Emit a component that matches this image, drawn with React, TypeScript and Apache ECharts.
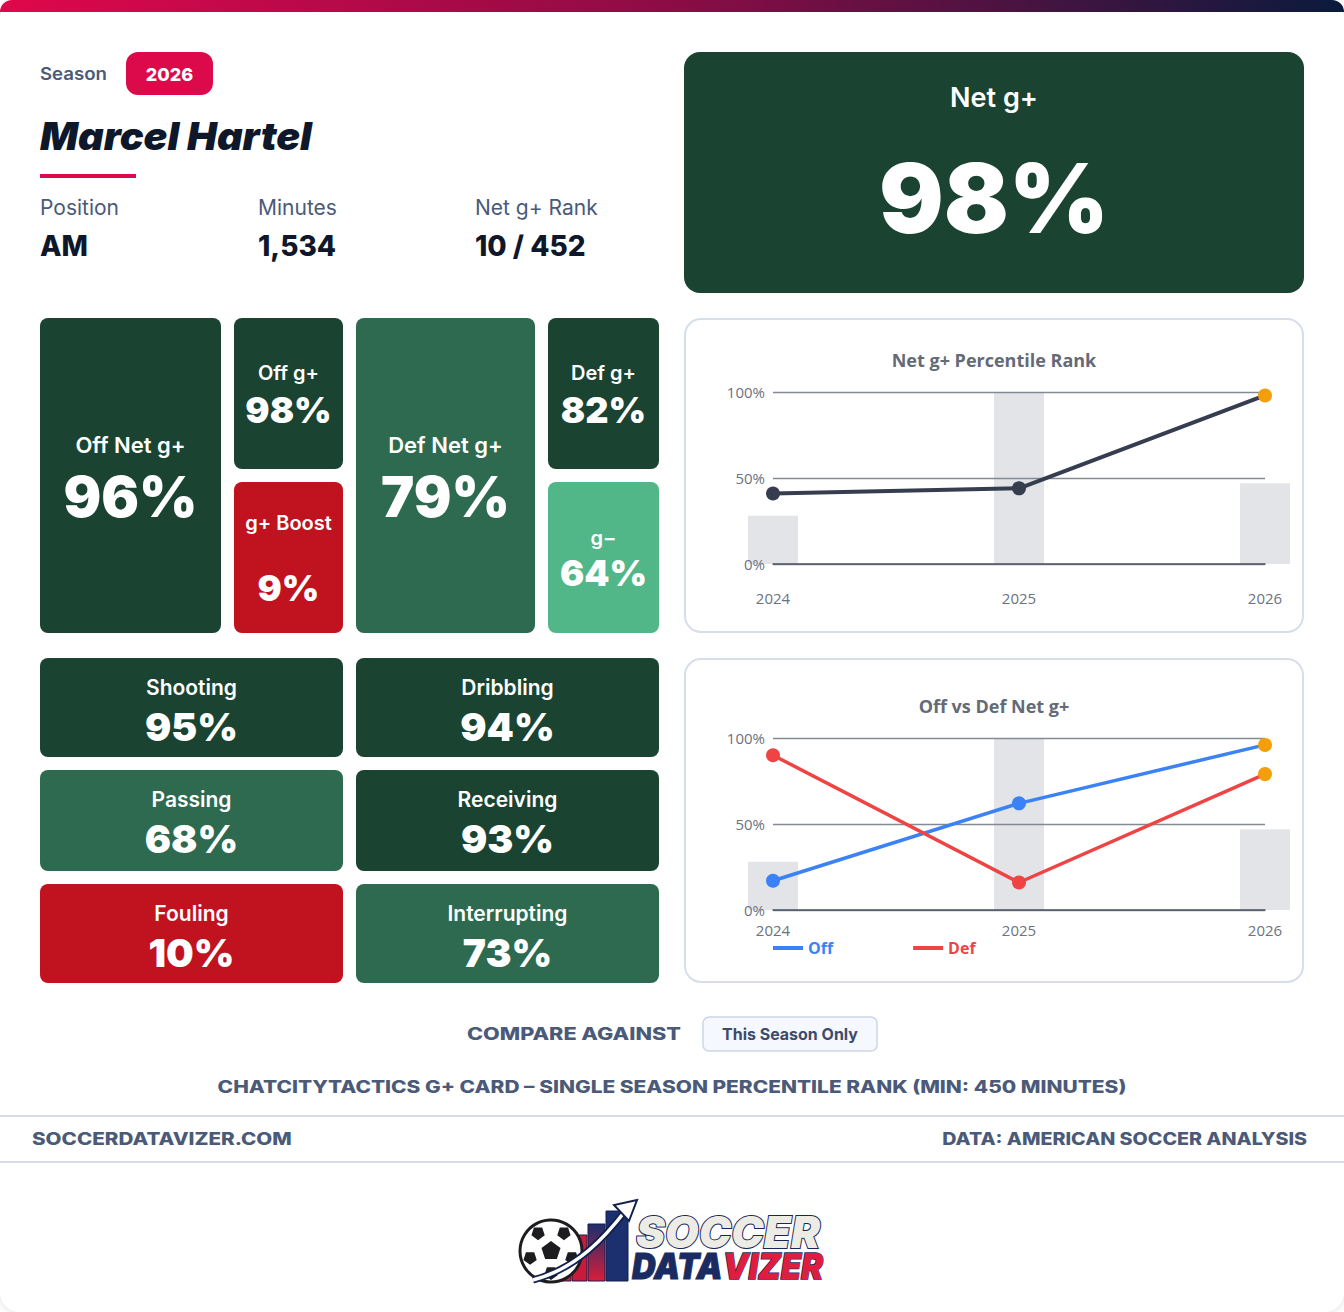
import React, { useEffect, useRef } from "react";
import * as echarts from "echarts";

// ---------- data ----------
const seasons = ["2024", "2025", "2026"];
const netGPlusRank = [41, 44, 98];
const offNetRank = [17, 62, 96];
const defNetRank = [90, 16, 79];
const minutesShare = [28, 100, 47];
const yAxisMin = 0;
const yAxisMax = 100;
const yAxisStep = 50;

const playerName = "Marcel Hartel";
const seasonLabel = "2026";
const infoLabels = ["Position", "Minutes", "Net g+ Rank"];
const infoValues = ["AM", "1,534", "10 / 452"];
const headlineLabel = "Net g+";
const headlineValue = 98;
const topTileLabels = ["Off Net g+", "Off g+", "g+ Boost", "Def Net g+", "Def g+", "g\u2212"];
const topTileValues = [96, 98, 9, 79, 82, 64];
const skillLabels = ["Shooting", "Dribbling", "Passing", "Receiving", "Fouling", "Interrupting"];
const skillValues = [95, 94, 68, 93, 10, 73];
const chartTitles = ["Net g+ Percentile Rank", "Off vs Def Net g+"];
const legendNames = ["Off", "Def"];
const compareLabel = "COMPARE AGAINST";
const compareOption = "This Season Only";
const captionText = "CHATCITYTACTICS G+ CARD \u2013 SINGLE SEASON PERCENTILE RANK (MIN: 450 MINUTES)";
const footerLeft = "SOCCERDATAVIZER.COM";
const footerRight = "DATA: AMERICAN SOCCER ANALYSIS";

// ---------- style ----------
const DARK = "#1b4332";
const MID = "#2d6a4f";
const LIGHT = "#52b788";
const RED = "#c1121f";
const CRIMSON = "#dc0a4b";
const SLATE = "#4a5a78";
const INK = "#0f172a";
const ORANGE = "#f59e0b";
const NAVY = "#1a2b61";
const FONT = 'Inter, "Noto Sans", sans-serif';
const CFONT = '"Open Sans", "Noto Sans", sans-serif';

const tileColor = (v: number) => (v >= 80 ? DARK : v >= 65 ? MID : v >= 50 ? LIGHT : RED);

export default function App() {
  const ref = useRef<HTMLDivElement>(null);

  useEffect(() => {
    document.body.style.margin = "0";
    const chart = echarts.init(ref.current!, null, { renderer: "svg" });

    const cv = document.createElement("canvas");
    const ctx = cv.getContext("2d")!;
    const measure = (t: string, size: number, weight: any, family = FONT, style = "normal") => {
      ctx.font = `${style} ${weight} ${size}px ${family}`;
      return ctx.measureText(t).width;
    };
    const fit = (t: string, size: number, weight: any, target: number, family = FONT, style = "normal") => {
      const w = measure(t, size, weight, family, style);
      return w > 0 ? target / w : 1;
    };

    const txt = (x: number, y: number, text: string, o: any = {}) => ({
      type: "text",
      x,
      y,
      scaleX: o.scaleX ?? 1,
      z: o.z ?? 5,
      silent: true,
      style: {
        text,
        fill: o.color ?? "#ffffff",
        fontSize: o.size ?? 16,
        fontWeight: o.weight ?? 400,
        fontFamily: o.family ?? FONT,
        fontStyle: o.fontStyle ?? "normal",
        align: o.align ?? "left",
        textAlign: o.align ?? "left",
        verticalAlign: "middle",
        textVerticalAlign: "middle",
        stroke: o.stroke,
        lineWidth: o.lineWidth ?? 0,
      },
    });
    const rect = (x: number, y: number, w: number, h: number, r: any, style: any, z = 1) => ({
      type: "rect",
      shape: { x, y, width: w, height: h, r },
      style,
      z,
      silent: true,
    });

    const g: any[] = [];

    // card + top bar
    g.push(rect(0, 0, 1344, 1312, 20, { fill: "#ffffff", shadowBlur: 8, shadowColor: "rgba(15,23,42,0.15)" }, -5));
    g.push(
      rect(0, 0, 1344, 12, [20, 20, 0, 0], {
        fill: new echarts.graphic.LinearGradient(0, 0, 1, 0, [
          { offset: 0, color: "#e0074c" },
          { offset: 0.5, color: "#8c0c45" },
          { offset: 1, color: "#0a1a3d" },
        ]),
      }, 1)
    );

    // header
    g.push(txt(40, 74, "Season", { color: SLATE, size: 17, weight: 600, scaleX: fit("Season", 17, 600, 67) }));
    g.push(rect(126, 52, 87, 43, 12, { fill: CRIMSON }, 2));
    g.push(txt(169.5, 74, seasonLabel, { align: "center", size: 18, weight: 800 }));
    g.push(
      txt(40, 136, playerName, {
        color: INK,
        size: 39,
        weight: 900,
        fontStyle: "italic",
        scaleX: fit(playerName, 39, 900, 272, FONT, "italic"),
      })
    );
    g.push(rect(40, 174, 96, 4, 0, { fill: CRIMSON }, 2));
    const infoX = [40, 258, 475];
    infoLabels.forEach((l, i) => g.push(txt(infoX[i], 207, l, { color: SLATE, size: 21, weight: 400 })));
    infoValues.forEach((v, i) => g.push(txt(infoX[i], 246, v, { color: INK, size: 28, weight: 800 })));

    // headline panel
    g.push(rect(684, 52, 620, 241, 16, { fill: tileColor(headlineValue) }, 2));
    g.push(txt(994, 97, headlineLabel, { align: "center", size: 27, weight: 600 }));
    g.push(txt(994, 198, `${headlineValue}%`, { align: "center", size: 96, weight: 900 }));

    // top tiles
    const topGeo = [
      { x: 40, y: 318, w: 181, h: 315, ly: 445, vy: 497, ls: 22, vs: 56 },
      { x: 234, y: 318, w: 109, h: 151, ly: 373, vy: 410, ls: 20, vs: 36 },
      { x: 234, y: 482, w: 109, h: 151, ly: 523, vy: 588, ls: 20, vs: 36 },
      { x: 356, y: 318, w: 179, h: 315, ly: 445, vy: 497, ls: 22, vs: 56 },
      { x: 548, y: 318, w: 111, h: 151, ly: 373, vy: 410, ls: 20, vs: 36 },
      { x: 548, y: 482, w: 111, h: 151, ly: 538, vy: 573, ls: 20, vs: 36 },
    ];
    topTileLabels.forEach((label, i) => {
      const t = topGeo[i];
      const cx = t.x + t.w / 2;
      g.push(rect(t.x, t.y, t.w, t.h, 8, { fill: tileColor(topTileValues[i]) }, 2));
      g.push(txt(cx, t.ly, label, { align: "center", size: t.ls, weight: 600 }));
      g.push(txt(cx, t.vy, `${topTileValues[i]}%`, { align: "center", size: t.vs, weight: 900 }));
    });

    // skill tiles
    const colX = [40, 356];
    const rowY = [658, 770, 884];
    const rowH = [99, 101, 99];
    skillLabels.forEach((label, i) => {
      const x = colX[i % 2];
      const r = Math.floor(i / 2);
      const y = rowY[r];
      const cx = x + 151.5;
      g.push(rect(x, y, 303, rowH[r], 8, { fill: tileColor(skillValues[i]) }, 2));
      g.push(txt(cx, y + 29, label, { align: "center", size: 21, weight: 600 }));
      g.push(txt(cx, y + 68, `${skillValues[i]}%`, { align: "center", size: 39, weight: 900 }));
    });

    // chart panels
    g.push(rect(685, 319, 618, 313, 16, { fill: "transparent", stroke: "#d6deea", lineWidth: 2 }, 1));
    g.push(rect(685, 659, 618, 323, 16, { fill: "transparent", stroke: "#d6deea", lineWidth: 2 }, 1));
    g.push(txt(994, 360, chartTitles[0], { align: "center", size: 18, weight: 700, color: "#646b77", family: CFONT }));
    g.push(txt(994, 706, chartTitles[1], { align: "center", size: 18, weight: 700, color: "#646b77", family: CFONT }));

    // footer
    g.push(txt(467, 1034, compareLabel, { color: SLATE, size: 17, weight: 800, scaleX: fit(compareLabel, 17, 800, 214) }));
    g.push(rect(703, 1017, 174, 34, 6, { fill: "#f5f8fe", stroke: "#cdd6e4", lineWidth: 1.5 }, 2));
    g.push(txt(790, 1034, compareOption, { align: "center", color: "#3d4b69", size: 16, weight: 700, scaleX: fit(compareOption, 16, 700, 136) }));
    g.push(txt(672, 1087, captionText, { align: "center", color: SLATE, size: 17, weight: 800, scaleX: fit(captionText, 17, 800, 909) }));
    g.push({ type: "line", shape: { x1: 0, y1: 1116, x2: 1344, y2: 1116 }, style: { stroke: "#d5dce6", lineWidth: 2 }, z: 2, silent: true });
    g.push({ type: "line", shape: { x1: 0, y1: 1162, x2: 1344, y2: 1162 }, style: { stroke: "#d5dce6", lineWidth: 2 }, z: 2, silent: true });
    g.push(txt(32, 1139, footerLeft, { color: SLATE, size: 17, weight: 800, scaleX: fit(footerLeft, 17, 800, 260) }));
    g.push(txt(1307, 1139, footerRight, { align: "right", color: SLATE, size: 17, weight: 800, scaleX: fit(footerRight, 17, 800, 365) }));

    // logo
    const logo: any[] = [];
    const bars = [
      { x: 556, y: 1244, w: 15, h: 37, c: "#d81e3a" },
      { x: 572, y: 1235, w: 15, h: 46, c: "#c81b3b" },
      { x: 588, y: 1224, w: 17, h: 57, c: new echarts.graphic.LinearGradient(0, 0, 0, 1, [{ offset: 0, color: "#1c2f6e" }, { offset: 1, color: "#d81e3a" }]) },
      { x: 606, y: 1211, w: 22, h: 70, c: "#1c2f6e" },
    ];
    bars.forEach((b) => logo.push(rect(b.x, b.y, b.w, b.h, 0, { fill: b.c, stroke: "#14214d", lineWidth: 1 }, 6)));
    logo.push({ type: "circle", shape: { cx: 551, cy: 1251, r: 31 }, style: { fill: "#ffffff", stroke: "#1d1d1f", lineWidth: 3 }, z: 7, silent: true });
    const pent = (cx: number, cy: number, r: number, rot: number) => {
      const pts: number[][] = [];
      for (let k = 0; k < 5; k++) {
        const a = rot + (k * 2 * Math.PI) / 5;
        pts.push([cx + r * Math.cos(a), cy + r * Math.sin(a)]);
      }
      return pts;
    };
    logo.push({ type: "polygon", shape: { points: pent(551, 1251, 10, -Math.PI / 2) }, style: { fill: "#1d1d1f" }, z: 8, silent: true });
    for (let k = 0; k < 5; k++) {
      const a = -Math.PI / 2 + Math.PI / 5 + (k * 2 * Math.PI) / 5;
      logo.push({
        type: "polygon",
        shape: { points: pent(551 + 22 * Math.cos(a), 1251 + 22 * Math.sin(a), 7, a) },
        style: { fill: "#1d1d1f" },
        z: 8,
        silent: true,
      });
    }
    const curve = { x1: 533, y1: 1280, cpx1: 578, cpy1: 1268, cpx2: 606, cpy2: 1236, x2: 626, y2: 1210 };
    logo.push({ type: "bezierCurve", shape: curve, style: { stroke: "#14214d", lineWidth: 7, fill: "none" }, z: 9, silent: true });
    logo.push({ type: "bezierCurve", shape: curve, style: { stroke: "#ffffff", lineWidth: 3.5, fill: "none" }, z: 10, silent: true });
    logo.push({
      type: "polygon",
      shape: { points: [[637, 1200], [614, 1205], [629, 1221]] },
      style: { fill: "#ffffff", stroke: "#14214d", lineWidth: 2 },
      z: 11,
      silent: true,
    });
    const sS = fit("SOCCER", 44, 900, 184, FONT, "italic");
    logo.push(txt(636, 1232, "SOCCER", { color: "#ecebe4", stroke: "#17265a", lineWidth: 2, size: 44, weight: 900, fontStyle: "italic", scaleX: sS, z: 12 }));
    const sD = fit("DATAVIZER", 36, 900, 188, FONT, "italic");
    const dataW = measure("DATA", 36, 900, FONT, "italic") * sD;
    logo.push(txt(632, 1266, "DATA", { color: NAVY, stroke: NAVY, lineWidth: 1, size: 36, weight: 900, fontStyle: "italic", scaleX: sD, z: 12 }));
    logo.push(txt(632 + dataW, 1266, "VIZER", { color: "#e11d3f", stroke: NAVY, lineWidth: 1.5, size: 36, weight: 900, fontStyle: "italic", scaleX: sD, z: 12 }));
    g.push(...logo);

    // chart helpers
    const lastOrange = (vals: number[]) =>
      vals.map((v, i) => (i === vals.length - 1 ? { value: v, itemStyle: { color: ORANGE } } : v));

    const xAxisBase = (gridIndex: number, margin: number) => ({
      type: "category",
      gridIndex,
      data: seasons,
      boundaryGap: false,
      z: 2,
      axisLine: { show: true, lineStyle: { color: "#4b5563", width: 1.5 } },
      axisTick: { show: false },
      axisLabel: { color: "#6b7280", fontSize: 15, fontFamily: CFONT, margin },
      splitLine: { show: false },
    });
    const yAxisBase = (gridIndex: number) => ({
      type: "value",
      gridIndex,
      min: yAxisMin,
      max: yAxisMax,
      interval: yAxisStep,
      z: 2,
      axisLine: { show: false },
      axisTick: { show: false },
      axisLabel: { color: "#6b7280", fontSize: 15, fontFamily: CFONT, margin: 8, formatter: "{value}%" },
      splitLine: { show: true, lineStyle: { color: "#848a94", width: 1.3 } },
    });
    const barSeries = (idx: number) => ({
      type: "bar",
      xAxisIndex: idx,
      yAxisIndex: idx,
      data: minutesShare,
      barWidth: 50,
      itemStyle: { color: "#e2e4e8" },
      silent: true,
      z: 1,
    });
    const lineSeries = (idx: number, name: string, vals: number[], color: string, width: number) => ({
      type: "line",
      name,
      xAxisIndex: idx,
      yAxisIndex: idx,
      data: lastOrange(vals),
      symbol: "circle",
      symbolSize: 14,
      lineStyle: { color, width },
      itemStyle: { color },
      silent: true,
      z: 3,
    });

    const option: any = {
      animation: false,
      backgroundColor: "transparent",
      textStyle: { fontFamily: FONT },
      graphic: { elements: g },
      grid: [
        { left: 773, top: 392, width: 492, height: 172, containLabel: false },
        { left: 773, top: 738, width: 492, height: 172, containLabel: false },
      ],
      xAxis: [xAxisBase(0, 26), xAxisBase(1, 12)],
      yAxis: [yAxisBase(0), yAxisBase(1)],
      legend: {
        left: 773,
        top: 940,
        padding: 0,
        icon: "rect",
        itemWidth: 30,
        itemHeight: 4,
        itemGap: 80,
        selectedMode: false,
        data: [
          { name: legendNames[0], textStyle: { color: "#3b82f6" } },
          { name: legendNames[1], textStyle: { color: "#ef4444" } },
        ],
        textStyle: { fontSize: 16, fontWeight: "bold", fontFamily: CFONT },
      },
      series: [
        barSeries(0),
        lineSeries(0, "Net g+", netGPlusRank, "#363d4f", 4),
        barSeries(1),
        lineSeries(1, legendNames[0], offNetRank, "#3b82f6", 3.5),
        lineSeries(1, legendNames[1], defNetRank, "#ef4444", 3.5),
      ],
    };

    chart.setOption(option);
    return () => chart.dispose();
  }, []);

  return <div ref={ref} style={{ width: 1344, height: 1312 }} />;
}
